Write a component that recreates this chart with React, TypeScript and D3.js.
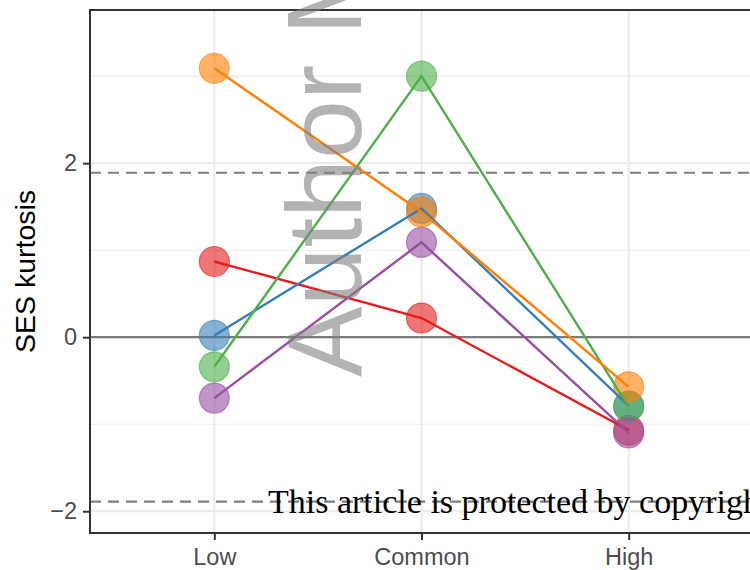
import React, { useEffect, useRef } from "react";
import * as d3 from "d3";

// categories on x axis
const levels = ["Low", "Common", "High"];

// one series per group (SES kurtosis)
const seriesNames = ["red", "blue", "green", "purple", "orange"];
const redVals = [0.87, 0.22, -1.07];
const blueVals = [0.02, 1.48, -0.79];
const greenVals = [-0.34, 3.0, -0.8];
const purpleVals = [-0.7, 1.09, -1.1];
const orangeVals = [3.09, 1.44, -0.57];
const seriesColors = ["#E41A1C", "#377EB8", "#4DAF4A", "#984EA3", "#FF7F00"];

const yTicks = [-2, 0, 2];
const yMinor = [-1, 1, 3];
const critical = 1.89;

export default function App() {
  const ref = useRef<SVGSVGElement>(null);

  useEffect(() => {
    const svg = d3.select(ref.current);
    svg.selectAll("*").remove();

    const W = 750, H = 570;
    const left = 90, top = 10, bottom = 533, right = 753;

    const x = d3.scalePoint().domain(levels).range([left, right]).padding(0.6);
    const y = d3.scaleLinear().domain([-2.25, 3.76]).range([bottom, top]);

    const all = [redVals, blueVals, greenVals, purpleVals, orangeVals];

    svg.attr("width", W).attr("height", H);
    const g = svg.append("g");

    // grid
    g.selectAll(".minor").data(yMinor).join("line")
      .attr("x1", left).attr("x2", right)
      .attr("y1", d => y(d)).attr("y2", d => y(d))
      .attr("stroke", "#ebebeb").attr("stroke-width", 1.1);
    g.selectAll(".major").data(yTicks).join("line")
      .attr("x1", left).attr("x2", right)
      .attr("y1", d => y(d)).attr("y2", d => y(d))
      .attr("stroke", "#ebebeb").attr("stroke-width", 2.2);
    g.selectAll(".vgrid").data(levels).join("line")
      .attr("x1", d => x(d)!).attr("x2", d => x(d)!)
      .attr("y1", top).attr("y2", bottom)
      .attr("stroke", "#ebebeb").attr("stroke-width", 2.2);

    // reference lines
    g.selectAll(".dash").data([critical, -critical]).join("line")
      .attr("x1", left).attr("x2", right)
      .attr("y1", d => y(d)).attr("y2", d => y(d))
      .attr("stroke", "#7f7f7f").attr("stroke-width", 2.2)
      .attr("stroke-dasharray", "11,7");
    g.append("line")
      .attr("x1", left).attr("x2", right)
      .attr("y1", y(0)).attr("y2", y(0))
      .attr("stroke", "#7a7a7a").attr("stroke-width", 2.2);

    // points
    all.forEach((vals, i) => {
      g.append("g").selectAll("circle").data(vals).join("circle")
        .attr("cx", (d, j) => x(levels[j])!)
        .attr("cy", d => y(d))
        .attr("r", 15)
        .attr("fill", seriesColors[i]).attr("fill-opacity", 0.6)
        .attr("stroke", seriesColors[i]).attr("stroke-opacity", 0.6)
        .attr("stroke-width", 1.2);
    });

    // lines
    const line = d3.line<number>()
      .x((d, j) => x(levels[j])!)
      .y(d => y(d));
    all.forEach((vals, i) => {
      g.append("path").datum(vals)
        .attr("d", line)
        .attr("fill", "none")
        .attr("stroke", seriesColors[i])
        .attr("stroke-width", 2.4)
        .attr("data-name", seriesNames[i]);
    });

    // panel border
    g.append("rect")
      .attr("x", left).attr("y", top)
      .attr("width", right - left).attr("height", bottom - top)
      .attr("fill", "none").attr("stroke", "#333333").attr("stroke-width", 2);

    // axes
    const yAxis = g.append("g")
      .attr("transform", `translate(${left},0)`)
      .call(d3.axisLeft(y).tickValues(yTicks).tickSize(7).tickPadding(6).tickFormat(d => d3.format("")(d as number).replace("-", "\u2212")));
    yAxis.select(".domain").remove();
    yAxis.selectAll("line").attr("stroke", "#333333").attr("stroke-width", 2);
    yAxis.selectAll("text").attr("fill", "#4d4d4d").attr("font-size", 23.5)
      .attr("font-family", "Liberation Sans, Arial, sans-serif");

    const xAxis = g.append("g")
      .attr("transform", `translate(0,${bottom})`)
      .call(d3.axisBottom(x).tickSize(7).tickPadding(8));
    xAxis.select(".domain").remove();
    xAxis.selectAll("line").attr("stroke", "#333333").attr("stroke-width", 2);
    xAxis.selectAll("text").attr("fill", "#4d4d4d").attr("font-size", 23.5)
      .attr("font-family", "Liberation Sans, Arial, sans-serif");

    // y title
    g.append("text")
      .attr("transform", `translate(35,${(top + bottom) / 2}) rotate(-90)`)
      .attr("text-anchor", "middle")
      .attr("font-size", 28.5)
      .attr("font-family", "Liberation Sans, Arial, sans-serif")
      .attr("fill", "#000")
      .text("SES kurtosis");

    // watermarks
    g.append("text")
      .attr("transform", "translate(361,377) rotate(-90)")
      .attr("font-size", 106)
      .attr("font-family", "Liberation Sans, Arial, sans-serif")
      .attr("fill", "#808080").attr("fill-opacity", 0.6)
      .text("Author Manuscript");

    g.append("text")
      .attr("x", 268).attr("y", 513)
      .attr("font-size", 34)
      .attr("font-family", "Liberation Serif, 'DejaVu Serif', serif")
      .attr("fill", "#000")
      .text("This article is protected by copyright. All rights reserved");
  }, []);

  return (
    <svg ref={ref} style={{ position: "absolute", left: 0, top: 0, display: "block" }} />
  );
}
